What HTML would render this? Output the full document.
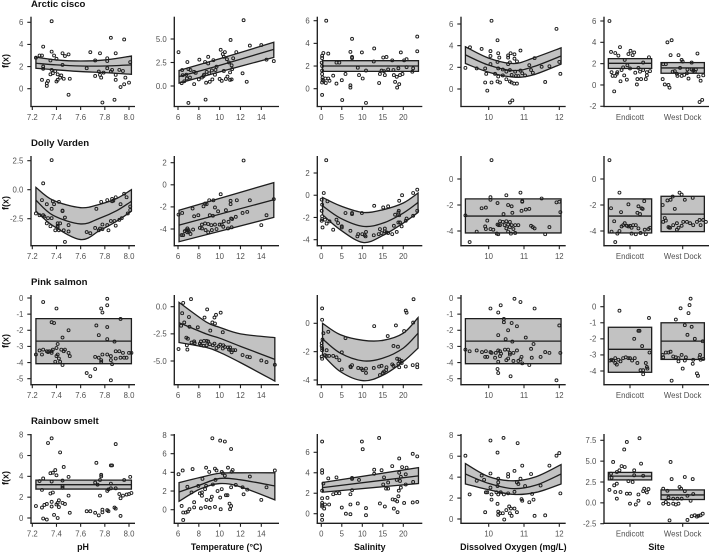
<!DOCTYPE html>
<html lang="en">
<head>
<meta charset="utf-8">
<title>GAM partial effects by species</title>
<style>
html,body{margin:0;padding:0;background:#fff;width:709px;height:552px;overflow:hidden}
svg{display:block;font-family:"Liberation Sans",sans-serif}
</style>
</head>
<body>
<svg id="chart" width="709" height="552" viewBox="0 0 709 552" xmlns="http://www.w3.org/2000/svg"></svg>
<script>
/* ---------- categories ---------- */
const speciesNames = ["Arctic cisco","Dolly Varden","Pink salmon","Rainbow smelt"];
const predictorNames = ["pH","Temperature (°C)","Salinity","Dissolved Oxygen (mg/L)","Site"];
const siteNames = ["Endicott","West Dock"];

/* ---------- x tick labels ---------- */
const phTicks = [7.2,7.4,7.6,7.8,8.0];
const tempTicks = [6,8,10,12,14];
const salTicks = [0,5,10,15,20];
const doTicks = [10,11,12];

/* ---------- y tick labels ---------- */
const arcticPhYTicks = [0,2,4,6];
const arcticTempYTicks = [0,2.5,5];
const arcticSalYTicks = [0,2,4,6];
const arcticDoYTicks = [0,2,4,6];
const arcticSiteYTicks = [-2,0,2,4,6];
const dollyPhYTicks = [-2.5,0,2.5];
const dollyTempYTicks = [-4,-2,0,2];
const dollySalYTicks = [-4,-2,0,2];
const dollyDoYTicks = [-4,-2,0];
const dollySiteYTicks = [-4,-2,0];
const pinkPhYTicks = [-5,-4,-3,-2,-1,0];
const pinkTempYTicks = [-5,-2.5,0];
const pinkSalYTicks = [-4,-2,0];
const pinkDoYTicks = [-5,-4,-3,-2,-1,0];
const pinkSiteYTicks = [-4,-3,-2,-1,0];
const smeltPhYTicks = [0,2,4,6,8];
const smeltTempYTicks = [0,2,4,6,8];
const smeltSalYTicks = [0,2,4,6];
const smeltDoYTicks = [0,2,4,6,8];
const smeltSiteYTicks = [-2.5,0,2.5,5,7.5];

/* ---------- smooth / effect bands: [x knots], fit, upper, lower ---------- */
const arcticPhKnots = [7.23,7.4,7.6,7.8,8.02];
const arcticPhFit = [2.3,2.15,2.05,2.05,2.15];
const arcticPhUpper = [2.85,2.6,2.5,2.6,2.95];
const arcticPhLower = [1.85,1.7,1.55,1.45,1.3];
const arcticTempKnots = [6.1,10,15.2];
const arcticTempFit = [1,2.2,3.9];
const arcticTempUpper = [1.65,2.9,4.65];
const arcticTempLower = [0.3,1.5,3.05];
const arcticSalKnots = [0.3,23.7];
const arcticSalFit = [2,2];
const arcticSalUpper = [2.47,2.47];
const arcticSalLower = [1.53,1.53];
const arcticDoKnots = [9.34,10,10.7,11.26,12.05];
const arcticDoFit = [3.15,2.2,1.7,2.05,3.05];
const arcticDoUpper = [3.9,2.85,2.35,2.85,3.8];
const arcticDoLower = [2.35,1.55,1.1,1.3,2.3];
const arcticSiteFit = [2.03,1.6];
const arcticSiteUpper = [2.47,2.1];
const arcticSiteLower = [1.55,1.1];

const dollyPhKnots = [7.23,7.37,7.6,7.76,7.9,8.02];
const dollyPhFit = [-0.9,-2.2,-2.95,-2.45,-1.8,-1];
const dollyPhUpper = [0.2,-0.9,-1.55,-1.25,-0.75,0];
const dollyPhLower = [-1.85,-3.1,-4.3,-3.5,-2.7,-1.85];
const dollyTempKnots = [6.1,15.2];
const dollyTempFit = [-3.65,-1.35];
const dollyTempUpper = [-2.3,0.2];
const dollyTempLower = [-5.15,-2.95];
const dollySalKnots = [0.3,4.6,10.2,15.1,20,23.6];
const dollySalFit = [-0.95,-2.05,-2.8,-2.5,-1.6,-0.65];
const dollySalUpper = [-0.2,-0.95,-1.55,-1.3,-0.7,0.2];
const dollySalLower = [-1.75,-3.1,-4.25,-3.6,-2.5,-1.55];
const dollyDoKnots = [9.34,12.05];
const dollyDoFit = [-2.85,-2.85];
const dollyDoUpper = [-1.53,-1.53];
const dollyDoLower = [-4.15,-4.15];
const dollySiteFit = [-2.85,-2.7];
const dollySiteUpper = [-1.53,-1.33];
const dollySiteLower = [-4.15,-4.05];

const pinkPhKnots = [7.23,8.02];
const pinkPhFit = [-2.67,-2.67];
const pinkPhUpper = [-1.28,-1.28];
const pinkPhLower = [-4.07,-4.07];
const pinkTempKnots = [6.1,8.7,10,12,15.3];
const pinkTempFit = [-1.47,-2.5,-2.9,-3.65,-4.85];
const pinkTempUpper = [0.4,-1.4,-1.9,-2.5,-2.85];
const pinkTempLower = [-3.3,-3.75,-4.2,-5.15,-6.85];
const pinkSalKnots = [0.3,4.6,10.2,15.1,20,23.6];
const pinkSalFit = [-1.1,-2.1,-2.65,-2.45,-1.75,-0.7];
const pinkSalUpper = [0,-0.8,-1.2,-1.2,-0.7,0.4];
const pinkSalLower = [-2.2,-3.4,-4.05,-3.65,-2.7,-1.75];
const pinkDoKnots = [9.34,12.05];
const pinkDoFit = [-2.67,-2.67];
const pinkDoUpper = [-1.28,-1.28];
const pinkDoLower = [-4.07,-4.07];
const pinkSiteFit = [-2.65,-2.14];
const pinkSiteUpper = [-1.28,-1];
const pinkSiteLower = [-4.08,-3.28];

const smeltPhKnots = [7.23,8.02];
const smeltPhFit = [3.2,3.2];
const smeltPhUpper = [3.64,3.64];
const smeltPhLower = [2.78,2.78];
const smeltTempKnots = [6.1,8.1,10,12,15.3];
const smeltTempFit = [1.9,2.65,3.35,3.2,2.55];
const smeltTempUpper = [2.9,3.45,3.9,3.95,3.95];
const smeltTempLower = [0.9,2.2,2.8,2.45,1.05];
const smeltSalKnots = [0.3,23.7];
const smeltSalFit = [2.55,3.7];
const smeltSalUpper = [3.05,4.5];
const smeltSalLower = [2.1,2.95];
const smeltDoKnots = [9.34,10,10.7,11.35,12.05];
const smeltDoFit = [4.3,3.4,2.9,3.25,4.3];
const smeltDoUpper = [5.3,4.05,3.65,4.05,5.2];
const smeltDoLower = [3.35,2.8,2.35,2.55,3.35];
const smeltSiteFit = [3.2,0.95];
const smeltSiteUpper = [3.65,1.55];
const smeltSiteLower = [2.75,0.4];

/* ---------- partial residuals: [x, y] ---------- */
const arcticPhPoints = [[7.36,6.1],[7.85,4.6],[7.96,4.45],[7.29,3.8],[7.36,3.35],[7.38,3],[7.45,3.2],[7.47,2.95],[7.5,3.1],[7.68,3.3],[7.76,3.2],[7.89,3.2],[7.26,3],[7.28,3],[7.23,2.8],[7.4,2.7],[7.35,2.55],[7.72,2.55],[7.82,2.75],[7.82,2.5],[8.01,2.4],[7.45,2.15],[7.29,2],[7.29,1.8],[7.65,1.85],[7.36,1.7],[7.39,1.6],[7.35,1.3],[7.37,1.4],[7.41,1.3],[7.44,1.2],[7.43,1],[7.28,0.8],[7.33,0.7],[7.32,0.5],[7.32,0.25],[7.4,0.65],[7.41,0.8],[7.46,0.9],[7.51,0.9],[7.5,-0.55],[7.78,-1.25],[7.88,-1],[7.72,1.15],[7.75,1.55],[7.76,1.25],[7.77,1],[7.82,1.85],[7.86,1.7],[7.85,1.55],[7.92,1.7],[7.95,1.6],[7.89,1.25],[7.89,0.8],[7.97,1],[8,0.55],[7.96,0.4],[7.93,0.15],[7.79,1.45]];
const arcticTempPoints = [[12.3,7],[6.05,3.6],[11.05,4.9],[12.9,4.3],[14,4.35],[14.5,2.8],[15.2,2.65],[12.6,0.45],[12.2,1.35],[10.1,3.85],[10.5,3.6],[11.6,3.6],[10.3,3.4],[10.4,3.1],[8.9,3.1],[9.4,2.75],[6.9,2.55],[8.05,2.8],[8.6,2.55],[8.9,2.4],[10.7,2.85],[11.3,2.95],[11.15,2.2],[7,-1.8],[8.65,-1.45],[6.35,0.3],[6.6,0.5],[6.85,0.8],[7.15,0.9],[7.55,0.2],[7.55,1.5],[8,0.7],[8.3,0.9],[8.45,1.05],[8.7,0.35],[9.05,0.45],[9.3,0.7],[9.55,1.2],[8.75,1.5],[9.25,1.65],[9.7,2.05],[10,0.75],[10.2,0.55],[10.4,1.6],[10.6,0.75],[10.75,1],[11,0.65],[11.15,0.7],[11,1.45],[11.2,1.8],[6.45,1.15],[6.8,1.2],[7.2,1.7],[7,1.8],[7.7,1.4],[6.4,1.7],[8.5,1.2],[9,1.35],[9.6,1.7],[10.9,2.5]];
const arcticSalPoints = [[1.2,6],[23.4,4.6],[23.4,3.3],[7.5,4.4],[12.9,3.55],[0.5,3.15],[1.7,3.1],[7.1,3.25],[9.9,3.2],[19.4,3.2],[0.2,2.9],[0.2,2.7],[7.5,2.8],[7.5,2.7],[15.1,2.75],[15.9,2.8],[17.3,2.5],[20.2,2.5],[20.8,2.6],[3.7,2.3],[4.4,2.3],[12.8,2.4],[8.9,1.85],[0.1,2.3],[0.2,2],[0.2,1.6],[10.9,1.6],[14.7,1.6],[15.3,1.55],[16.3,1.7],[17.6,1.65],[18.8,1.8],[20.8,1.9],[22.4,1.8],[22.2,1.5],[14.3,1.3],[15.5,1.2],[17.7,1.2],[19.2,1.2],[19.8,1.3],[5.9,1.3],[9.2,1.2],[10.1,0.9],[2.9,1.15],[1,0.9],[1.7,0.9],[1.1,0.5],[2,0.7],[3.7,0.45],[5,0.75],[7.1,0.3],[7.1,0.1],[14.1,0.5],[18,0.6],[18.4,1.05],[19,0.4],[18.5,0.1],[0.2,-0.55],[5.1,-1],[10.9,-1.25],[0.2,1.3],[0.3,1],[0.3,0.8],[0.2,0.55],[0.5,0.7]];
const arcticDoPoints = [[10.08,6.3],[11.92,5.55],[10.25,4.5],[9.47,3.85],[9.8,3.7],[10.05,3.5],[10.27,3.3],[10.9,3.55],[10.62,3.3],[10.73,3.2],[10.55,3.1],[10.05,3.05],[10.55,2.9],[10.3,2.9],[10.73,2.8],[11.3,2.85],[10.25,2.5],[10.8,2.55],[10.6,2.45],[10.55,2.3],[10.05,2.3],[12,2.5],[11.15,2.2],[11.5,2.05],[11.72,2.1],[9.34,1.95],[9.66,1.9],[9.9,1.9],[10.27,1.9],[10.4,1.8],[10.5,1.6],[10.6,1.75],[10.75,1.6],[10.9,1.7],[11.2,1.75],[11.25,1.5],[9.93,1.4],[10.18,1.4],[10.27,1.15],[10.4,1.25],[10.65,1.3],[10.95,1.45],[11.03,1.25],[10.77,1.2],[10.84,1.2],[12.03,1.4],[9.9,0.6],[10.08,0.6],[10.25,0.7],[10.32,0.6],[10.5,0.9],[10.6,0.7],[10.65,0.6],[10.72,0.5],[10.8,0.5],[11.6,0.65],[9.96,-0.15],[10.6,-1.25],[10.67,-1.05]];
const arcticSitePoints = [[0.61,6],[0.64,3.1],[0.81,3.55],[0.72,3],[0.78,2.75],[1.01,3.2],[1.08,3.05],[1.05,2.8],[0.97,2.9],[1.36,2.6],[0.9,2.35],[1.25,2.1],[0.95,1.85],[0.87,1.65],[0.84,1.4],[1,1.55],[1.16,1.6],[1.25,1.4],[0.65,1.2],[0.76,1.2],[1.1,1.15],[1.19,1.25],[1.32,1.2],[1.38,1.3],[0.67,0.85],[0.72,0.85],[0.75,1.05],[0.89,0.9],[0.94,0.5],[0.82,0.35],[1.14,0.55],[1.21,0.55],[1.3,0.55],[1.32,0.9],[1.13,0.05],[0.7,-0.6],[1.71,4],[1.79,4.2],[2.28,2.95],[1.77,2.8],[1.92,2.8],[1.98,2.35],[2,2.2],[2.17,2.1],[1.63,1.95],[1.68,1.95],[1.95,1.6],[2.09,1.45],[2.17,1.45],[2.25,1.45],[1.81,1.25],[1.85,1.3],[1.89,1.05],[1.9,0.85],[2.03,0.95],[2.08,1.1],[1.98,0.85],[2.11,0.6],[2.23,1.25],[2.3,0.8],[2.39,0.9],[2.34,0.4],[1.62,0.55],[1.66,0.05],[1.73,0],[1.75,-0.25],[2.32,-1.6],[2.37,-1.4],[2.2,1.35]];

const dollyPhPoints = [[7.36,2.55],[7.29,0.55],[7.96,-0.35],[7.98,-0.65],[7.89,-0.65],[7.86,-0.8],[7.82,-0.9],[7.77,-1.05],[7.37,-1],[7.38,-1.25],[7.42,-1.05],[7.28,-0.9],[7.32,-1.25],[7.93,-1.25],[7.73,-1.65],[7.36,-1.65],[7.45,-1.85],[7.45,-1.8],[8.01,-1.45],[7.23,-2.05],[7.26,-2.2],[7.29,-2.2],[7.3,-2.3],[7.33,-2.45],[7.36,-2.45],[7.47,-2.4],[7.32,-2.9],[7.35,-3.15],[7.41,-2.9],[7.43,-2.9],[7.41,-3.1],[7.39,-3.5],[7.42,-3.5],[7.46,-3.5],[7.5,-3.6],[7.5,-3.05],[7.47,-4.5],[7.65,-3.65],[7.68,-3.75],[7.72,-3.3],[7.75,-3.5],[7.76,-3.35],[7.78,-3],[7.82,-3.05],[7.83,-3.5],[7.85,-2.7],[7.88,-2.7],[7.89,-3.1],[7.92,-2.6],[7.94,-2.45],[7.99,-2.05],[8.01,-1.75],[7.86,-1],[7.87,-0.95],[7.41,-3.2],[7.78,-3.4]];
const dollyTempPoints = [[12.3,2.2],[10.1,-0.85],[12.9,-1.4],[11.05,-1.45],[11.65,-1.4],[11.05,-1.75],[9,-1.4],[9.4,-1.4],[8.6,-1.7],[8.45,-1.95],[9.55,-2.05],[9.85,-2.4],[10.6,-2.3],[12.2,-2.55],[12.65,-2.45],[14.5,-2.75],[7.4,-2.15],[6.4,-2.55],[6.05,-2.7],[9.05,-2.75],[9.35,-2.8],[7.95,-2.75],[7.55,-2.85],[11.55,-2.9],[11.2,-3.1],[14,-3.65],[6.35,-4.55],[6.5,-4.55],[6.65,-4.2],[6.9,-3.95],[7,-4.1],[6.9,-4.3],[7.2,-4.45],[7.45,-4.05],[8.1,-3.9],[8.3,-3.6],[8.6,-3.5],[8.9,-3.55],[9.2,-3.65],[8.3,-3.95],[8.65,-4.1],[8.9,-4.3],[9.25,-4.1],[9.55,-3.6],[9.7,-4],[10,-3.6],[10.2,-3.6],[10.4,-3.3],[10.85,-3.35],[10.8,-3.95],[11.15,-3.85],[10.35,-3.8],[15.2,-1.3],[6.8,-4.1],[7.05,-4.25],[11.1,-3.05],[8.75,-1.75]];
const dollySalPoints = [[1.2,3.15],[0.6,0.2],[23.4,0.5],[19.7,0],[22.4,0.2],[12.9,-0.95],[15.1,-1.1],[16.3,-1],[19,-0.5],[5.9,-1.6],[7.5,-1.6],[9.9,-1.6],[1.5,-0.55],[0.1,-0.4],[0.2,-0.85],[0.1,-1.4],[0.2,-1.9],[0.2,-2.15],[0.1,-2.3],[0.3,-2.9],[0.9,-2.2],[1.3,-2.55],[2,-2.35],[2.9,-3.1],[3.7,-2.2],[4.1,-2.5],[5,-2.9],[7.1,-3.2],[8.8,-3.7],[9,-3.5],[10,-3.5],[10.9,-3.3],[10.6,-3.6],[10.8,-3.7],[12.8,-3.6],[14.3,-3.05],[14,-3.5],[14.7,-3.4],[15.5,-3],[15.5,-3.25],[15.9,-3.35],[16.3,-3.4],[17.3,-3.5],[17.7,-2.75],[18.4,-3.3],[18,-1.75],[18.8,-1.55],[18.9,-1.4],[19,-1.8],[18.8,-2.45],[19.2,-2.45],[19.6,-2.8],[20.6,-2.3],[20.8,-2.1],[22.4,-1.85],[23.4,-1.4],[7.5,-1.7],[5,-2.8]];
const dollyDoPoints = [[10.08,1.45],[10.9,-1.05],[10.5,-1.25],[10.05,-1.4],[10.05,-1.6],[10.95,-1.7],[11.5,-1.5],[11.92,-1.8],[12,-1.75],[10.25,-1.85],[10.55,-2],[10.65,-2.1],[9.8,-2.25],[9.92,-2.2],[10.93,-2.45],[11.05,-2.35],[11.15,-2.3],[12.03,-2.55],[10.67,-2.6],[10.42,-2.7],[9.34,-2.8],[9.96,-3.2],[10.32,-3.25],[10.4,-3.3],[10.5,-3.25],[10.6,-3.3],[10.25,-3.5],[10.32,-3.55],[10.45,-3.55],[10.55,-3.5],[10.65,-3.55],[10.75,-3.55],[10.84,-3.55],[9.9,-3.65],[9.92,-3.85],[10.05,-3.85],[10.13,-3.9],[10.23,-4.2],[10.27,-4.25],[10.5,-3.8],[10.55,-4.05],[10.63,-4.2],[10.75,-4.15],[10.7,-3.85],[11.2,-3.6],[11.25,-3.7],[11.3,-3.8],[11.72,-3.7],[11.6,-4.25],[9.66,-4.05],[9.46,-4.85],[10.95,-1.75],[10.28,-3.55],[10.6,-3.7]];
const dollySitePoints = [[0.61,1.45],[0.8,-1.05],[0.64,-2.25],[0.83,-2.55],[0.7,-3.25],[0.97,-1.95],[1.16,-2.1],[1.27,-1.7],[1.24,-2.3],[1.14,-2.6],[1.19,-2.7],[0.65,-4.05],[0.72,-4.85],[0.76,-4.2],[0.8,-4],[0.84,-3.65],[0.87,-3.55],[0.9,-3.4],[0.94,-3.6],[0.97,-3.65],[1,-3.6],[1.03,-3.75],[1.06,-3.55],[1.11,-3.55],[1.16,-3.8],[1.03,-4.2],[1.11,-4.25],[1.2,-4.15],[1.3,-4.25],[1.28,-3.9],[1.35,-3.85],[1.38,-3.75],[1.94,-1.05],[1.98,-1.2],[2.19,-1.45],[1.81,-1.35],[1.77,-1.6],[1.71,-1.65],[1.62,-2],[2.04,-1.6],[1.85,-2.3],[1.66,-3],[1.68,-3.2],[1.63,-3.3],[1.73,-3.7],[1.82,-3.55],[1.89,-3.4],[1.92,-3.75],[1.98,-3.6],[2.01,-3.3],[2.08,-3.3],[2.14,-3.4],[2.2,-3.55],[2.27,-3.3],[2.32,-3.15],[2.39,-3.15],[2.34,-3.55],[1.76,-3.75],[1.89,-3.9],[2.44,-3.3],[1.22,-2.25],[1.75,-3.75]];

const pinkPhPoints = [[7.82,-0.05],[7.82,-0.45],[7.29,-0.25],[7.4,-0.65],[7.77,-0.65],[7.78,-0.9],[7.36,-1.5],[7.38,-1.55],[7.93,-1.3],[7.73,-1.7],[7.82,-1.8],[7.5,-2],[7.75,-2.3],[7.45,-2.45],[7.82,-2.55],[7.88,-2.7],[7.41,-2.85],[7.23,-3.5],[7.26,-3.25],[7.28,-3.5],[7.29,-3.2],[7.32,-3.3],[7.34,-3.3],[7.36,-3.4],[7.37,-3.2],[7.4,-3.1],[7.41,-3.5],[7.44,-3.2],[7.46,-3.3],[7.47,-3.2],[7.5,-3.4],[7.51,-3.6],[7.4,-3.6],[7.42,-3.75],[7.39,-3.95],[7.43,-3.95],[7.45,-4.15],[7.72,-3.65],[7.75,-3.7],[7.77,-3.85],[7.78,-3.5],[7.82,-3.5],[7.85,-3.6],[7.85,-3.85],[7.89,-3.3],[7.89,-3.75],[7.92,-3.3],[7.95,-3.4],[7.93,-3.7],[7.96,-3.7],[7.98,-3.7],[8,-3.4],[8.02,-3.4],[7.86,-4.1],[7.72,-4.4],[7.65,-4.65],[7.68,-4.85],[7.85,-5.1],[7.77,-3.95],[7.36,-3.3],[7.33,-3.35]];
const pinkTempPoints = [[7.25,0.7],[6.5,0.35],[8.8,-0.25],[10.1,-0.55],[6.4,-0.6],[9.65,-0.75],[9.5,-1],[7.05,-0.95],[8.55,-1],[9.3,-1.45],[9.55,-1.55],[6.6,-1.45],[6.3,-1.75],[7.1,-1.85],[7.9,-1.9],[9.1,-2.2],[10.3,-2.35],[6.8,-2.85],[6.95,-2.95],[6.05,-3.9],[6.85,-3.55],[6.9,-3.95],[7.3,-3.3],[7.55,-3.2],[7.6,-3.35],[8.2,-3.2],[8.2,-3.55],[8.5,-3.15],[8.75,-3.15],[8.9,-3.2],[8.45,-3.6],[8.75,-3.55],[9.05,-3.45],[9.35,-3.55],[9.7,-3.8],[10.05,-3.5],[10.35,-3.55],[10.5,-3.7],[10.8,-3.75],[11.05,-4],[11.15,-4.2],[11.3,-4],[11.5,-4],[12.2,-4.45],[12.65,-4.6],[12.9,-4.65],[14,-4.95],[14.5,-5.1],[15.3,-5.35],[10.3,-3.85],[10.9,-3.95],[11,-3.75],[9.9,-3.65],[8.1,-3.4],[9.5,-3.4]];
const pinkSalPoints = [[22.5,1.7],[0.2,1.05],[0.2,0.25],[20.6,0.9],[20.8,0.75],[12.9,-0.2],[18.2,-0.15],[22.4,0.05],[20.2,-0.55],[5.9,-1.05],[16.2,-0.9],[1.7,-0.6],[0.5,-0.7],[0.3,-1.15],[17.6,-1.6],[18.7,-1.65],[5,-2.05],[0.1,-1.4],[0.1,-1.6],[0.2,-1.75],[0.2,-1.9],[0.1,-2.35],[0.2,-2.5],[0.9,-2.25],[1.3,-1.9],[1.3,-2.3],[1.9,-2.3],[2.9,-2.3],[3.7,-2.4],[4.4,-2.6],[5,-3.25],[7.1,-3.05],[7.5,-2.95],[7.2,-3.1],[9,-3.15],[9.8,-3.2],[10.1,-3.3],[10.9,-3.2],[10.9,-3.5],[12.8,-3.15],[14.1,-3.05],[14.7,-3],[14.3,-3.65],[15.3,-3.4],[15.9,-3.1],[15.8,-3.3],[17.3,-2.9],[17.6,-3],[18.5,-2.5],[19,-2.55],[18.8,-2.85],[19.6,-2.65],[19.6,-2.8],[19,-3.1],[20.6,-3.05],[22.3,-2.95],[23.4,-2.9],[23.4,-3.1],[15,-3.5],[19.2,-2.7]];
const pinkDoPoints = [[10.73,-0.05],[10.9,-0.25],[10.34,-0.45],[10.05,-0.65],[10.27,-0.9],[11.3,-0.65],[10.43,-1.3],[10.43,-1.5],[10.65,-1.55],[10.8,-1.75],[12,-1.7],[10.55,-2],[10.27,-2.3],[11.05,-2.45],[10.48,-2.55],[10.67,-2.7],[11.27,-2.85],[9.34,-3.2],[9.46,-3.3],[9.66,-3.25],[9.81,-3.35],[9.92,-3.3],[10.05,-3.35],[10.08,-3.4],[9.9,-3.65],[9.96,-3.65],[10.2,-3.4],[10.27,-3.25],[10.32,-3.3],[10.32,-3.6],[10.18,-3.7],[10.46,-3.2],[10.55,-3.2],[10.6,-3.4],[10.7,-3.4],[10.8,-3.25],[11.2,-3.15],[12.03,-3.4],[11.6,-3.35],[11.72,-3.4],[11.47,-3.65],[11.22,-3.7],[10.93,-3.65],[10.27,-3.95],[10.5,-3.85],[10.55,-3.75],[10.7,-3.9],[10.84,-3.9],[10.9,-3.8],[10.95,-4.05],[11.15,-4.15],[10.25,-4.4],[10.27,-4.65],[10.62,-4.85],[11.92,-5.1],[10.6,-3.5],[10.35,-3.45]];
const pinkSitePoints = [[0.8,-0.25],[1.36,-0.7],[1.18,-1.5],[1.16,-1.5],[1.08,-2],[1.23,-2.45],[1.37,-2.85],[0.62,-3.35],[0.65,-3.3],[0.68,-3.35],[0.72,-3.2],[0.75,-3.6],[0.78,-3.3],[0.82,-3.4],[0.87,-3.2],[0.92,-3.15],[0.97,-3.2],[1,-3.2],[1.04,-3.35],[1.09,-3.2],[1.14,-3.5],[1.2,-3.95],[1.25,-3.95],[1.25,-4.2],[1.3,-3.5],[1.32,-3.75],[1.33,-3.85],[0.72,-3.5],[2.15,0.5],[2.13,0.1],[1.96,-0.1],[2.11,-0.4],[1.87,-0.8],[2.04,-1.15],[2.17,-1.25],[2.09,-1.75],[2.23,-2],[2.38,-2.15],[1.79,-4.6],[2,-3.85],[2.27,-4.15],[2.29,-4.3],[2.19,-3.55],[1.62,-3],[1.63,-3.15],[1.68,-2.85],[1.73,-2.85],[1.77,-2.8],[1.82,-3.1],[1.87,-3.15],[1.92,-3.4],[1.98,-3],[2.04,-3.35],[2.06,-3.15],[2.2,-3.3],[2.33,-3],[2.32,-3.15],[2.34,-3.3],[2.39,-3.25],[1.92,-3.2]];

const smeltPhPoints = [[7.36,7.65],[7.33,7.2],[7.89,7.1],[7.43,6.3],[7.46,4.9],[7.73,5.3],[7.85,5.05],[7.86,5.05],[7.35,4.3],[7.37,4.35],[7.39,4.6],[7.4,4.1],[7.5,3.95],[7.29,3.8],[7.77,4.15],[7.77,4],[8.01,3.95],[7.96,3.65],[7.26,3.55],[7.36,3.5],[7.45,3.6],[7.72,3.4],[7.76,3.65],[7.74,3.2],[7.85,3.3],[7.45,3.05],[7.45,2.9],[7.28,2.7],[7.35,2.35],[7.37,2.45],[7.82,2.6],[7.83,2.75],[7.85,2.85],[7.89,2.85],[7.5,2.15],[7.76,2.15],[7.92,2.3],[7.95,2.15],[7.98,2.25],[8.02,2.4],[7.93,1.9],[8,2.3],[7.23,1.15],[7.28,1],[7.3,1.25],[7.32,1.35],[7.36,1.55],[7.36,1.1],[7.4,1.3],[7.41,1.45],[7.42,1.7],[7.42,1.05],[7.45,1.45],[7.47,1.35],[7.51,0.5],[7.38,0.3],[7.41,0],[7.29,-0.05],[7.32,-0.15],[7.65,0.65],[7.68,0.65],[7.72,0.5],[7.75,0.25],[7.78,0.8],[7.78,0.55],[7.82,0.75],[7.83,0.65],[7.88,1],[7.89,0.9],[7.93,0.2]];
const smeltTempPoints = [[9.3,7.65],[10.05,7.4],[10.5,7.3],[11.1,6.5],[8.7,4.5],[6.45,4.2],[7.4,4.35],[6.05,3.8],[9,4.05],[9.55,4.4],[9.7,4.2],[10.3,3.9],[10.2,4.05],[10.8,4.5],[11.25,4.25],[11.15,4.05],[10.5,3.65],[8.35,3.3],[12.9,3.55],[15.3,4.2],[6.9,2.45],[7.95,2.55],[8.7,2.55],[9.6,3.2],[9.35,2.7],[8.6,2.2],[8.3,1.85],[8.1,1.75],[7.3,1.85],[8.3,1.5],[9.8,2],[10.2,2.2],[11.1,2.4],[11.55,2.65],[12.2,2.4],[12.65,2.15],[12.3,1.65],[14.5,2.4],[14,1.05],[9.25,1.4],[8.75,1.05],[9.15,1.05],[10.05,1.3],[10.6,1.55],[10.75,1.55],[10.95,0.65],[11.1,0.4],[11,0.05],[8.2,0.15],[8.65,0.3],[9.05,0.2],[9.55,0.3],[10.1,0.05],[6.35,0.4],[6.5,-0.3],[6.75,-0.3],[6.95,-0.2],[7.1,0.05],[7.55,0.8],[7.55,0.25],[6.5,-1.1]];
const smeltSalPoints = [[0.2,7.05],[9.9,7.05],[14.1,7.4],[10.1,6.3],[22.3,5.85],[23.4,5.6],[19,5.4],[0.2,4.25],[0.2,4],[1.7,3.45],[3.7,3.55],[7.5,3.5],[7.5,3.4],[9.2,3.3],[12.9,4.3],[12.9,3.9],[14.7,4.25],[17.3,4.65],[19.7,4.55],[20.8,4.5],[19,4],[20.6,3.85],[19.4,3.6],[15.3,3.55],[18.4,3.3],[19.2,3.2],[22.4,3.1],[16.3,3.05],[15.1,2.85],[20.6,2.85],[19.4,2.55],[18.9,2.25],[15.8,2.45],[16.3,2.45],[7.5,2.3],[0.5,2.95],[0.2,2.25],[1.5,1.55],[0.2,1.5],[2.9,1.9],[3.6,2],[4.4,2],[7.1,1.9],[18.8,1.7],[17.4,1.4],[18,1.35],[18.5,1.2],[20.2,1.05],[22.3,1.1],[23.4,1.15],[14.3,1],[8.9,1],[7.1,0.9],[1.9,0.9],[0.2,1.05],[0.2,0.85],[0.9,0.9],[0.2,0.7],[0.7,0.5],[5,0.6],[10.9,0.55],[15.5,0.7],[17.7,0.5],[18.6,0.15],[6,0],[7.1,-0.05],[10.9,-0.15],[0.2,-0.15],[0.2,-0.6]];
const smeltDoPoints = [[10.05,7.5],[10.42,7.75],[10.82,7.25],[10.25,6.35],[9.34,6.05],[11.92,6.05],[12,6.3],[11.72,5.1],[10.95,5.1],[10.73,4.6],[10.05,4.35],[11.2,4.3],[9.8,4.15],[10.55,4.3],[10.55,4.05],[10.27,3.85],[9.87,3.75],[9.66,3.65],[10.9,3.85],[10.8,3.5],[10.84,3.35],[10.27,3.5],[11.03,3.15],[11.47,3.2],[10.05,3],[10.25,3.15],[9.46,2.35],[9.92,2.55],[9.96,2.55],[10.08,2.35],[10.22,2.55],[10.27,2.35],[10.34,2.55],[10.43,2.35],[10.55,2.45],[10.73,2.6],[11.23,2.4],[12.03,2.45],[10.08,1.85],[10.25,1.45],[10.93,1.9],[10.95,1.75],[11.15,1.6],[11.27,1.85],[10.58,1.2],[10.63,1],[10.5,0.85],[10.73,1],[9.9,0.65],[10.27,0.7],[10.32,0.55],[10.4,0.55],[10.27,0.4],[10.6,0.55],[10.8,0.65],[10.65,0.3],[11.3,0.3],[11.6,0.35],[10.44,-0.05]];
const smeltSitePoints = [[1.18,7.75],[0.94,7.3],[0.89,6.4],[0.68,4.9],[1.21,4.7],[0.84,4.4],[0.9,4.3],[1.08,3.9],[0.8,3.9],[0.75,3.7],[0.64,3.5],[1.08,3.3],[1.25,3.25],[0.65,3],[1.05,2.5],[0.97,2.6],[0.75,2.3],[0.7,2.1],[1.27,1.7],[0.61,1.55],[0.72,1.3],[0.82,1.3],[0.94,1.1],[1,1.1],[1.16,1],[1.25,1.4],[1.32,1.25],[1.35,1.65],[0.75,0.5],[1.16,0.25],[1,-0.1],[1.11,-0.2],[1.36,-0.05],[1.77,4.9],[1.79,2.85],[2.04,3.1],[2.19,2.85],[1.94,1.9],[1.97,1.7],[1.63,1.7],[1.71,1.45],[2.04,1.4],[2.2,1.05],[2.09,0.85],[1.9,0.5],[1.82,0.5],[1.73,0.65],[1.98,0.5],[2.15,0.25],[1.63,-0.1],[1.68,0.1],[1.73,-0.15],[1.82,-0.1],[1.87,-0.2],[1.92,-0.1],[1.75,-2.1],[2.09,-2.05],[2.17,-1.6],[2.23,-1.5],[2.3,-1.55],[2.34,-1.5],[2.38,-1.3],[2.27,-1.65]];

/* ---------- layout (not data) ---------- */
const INK = "#1e1e1e", TICK_TXT = "#505050", BAND = "#c2c2c2";
const columns = [
  {key:"ph",   axisX:31,    endX:135,   d:[7.2,8.0],  r:[32.3,129],   ticks:phTicks,   fmt:v=>v.toFixed(1)},
  {key:"temp", axisX:174.3, endX:279,   d:[6,14],     r:[178,261.3],  ticks:tempTicks, fmt:v=>String(v)},
  {key:"sal",  axisX:317.3, endX:422.3, d:[0,20],     r:[321.3,403.3],ticks:salTicks,  fmt:v=>String(v)},
  {key:"do",   axisX:461,   endX:565.7, d:[10,12],    r:[488.7,559.3],ticks:doTicks,   fmt:v=>String(v)},
  {key:"site", axisX:604,   endX:709,   d:[1,2],      r:[630,682.7],  ticks:[1,2],     fmt:v=>siteNames[v-1]}
];
const rows = [
  {top:16.7, bottom:106.5, titleY:7,   fxY:61},
  {top:156,  bottom:245.7, titleY:146, fxY:203},
  {top:295,  bottom:384.7, titleY:285, fxY:341},
  {top:434,  bottom:523.3, titleY:424, fxY:478}
];
const yAnchors = [
  [[0,88.7,6,22.3],[0,86,5,39],[0,88.7,6,20.7],[0,89,6,24],[-2,106.3,6,21]],
  [[-2.5,218.7,2.5,160.7],[-4,229,2,162.7],[-4,239.7,2,173],[-4,231,0,179],[-4,231,0,179]],
  [[-5,378.7,0,298],[-5,361,0,306.7],[-4,380,0,323.3],[-5,378.7,0,298],[-4,371,0,306.7]],
  [[0,518,8,434.7],[0,509.7,8,435],[0,513.7,6,452.3],[0,519,8,435.3],[-2.5,523.7,7.5,440.3]]
];
const panelData = [
  [{pts:arcticPhPoints,k:arcticPhKnots,f:arcticPhFit,u:arcticPhUpper,l:arcticPhLower,yt:arcticPhYTicks,yf:v=>String(v)},
   {pts:arcticTempPoints,k:arcticTempKnots,f:arcticTempFit,u:arcticTempUpper,l:arcticTempLower,yt:arcticTempYTicks,yf:v=>v.toFixed(1)},
   {pts:arcticSalPoints,k:arcticSalKnots,f:arcticSalFit,u:arcticSalUpper,l:arcticSalLower,yt:arcticSalYTicks,yf:v=>String(v)},
   {pts:arcticDoPoints,k:arcticDoKnots,f:arcticDoFit,u:arcticDoUpper,l:arcticDoLower,yt:arcticDoYTicks,yf:v=>String(v)},
   {pts:arcticSitePoints,f:arcticSiteFit,u:arcticSiteUpper,l:arcticSiteLower,yt:arcticSiteYTicks,yf:v=>String(v)}],
  [{pts:dollyPhPoints,k:dollyPhKnots,f:dollyPhFit,u:dollyPhUpper,l:dollyPhLower,yt:dollyPhYTicks,yf:v=>v.toFixed(1)},
   {pts:dollyTempPoints,k:dollyTempKnots,f:dollyTempFit,u:dollyTempUpper,l:dollyTempLower,yt:dollyTempYTicks,yf:v=>String(v)},
   {pts:dollySalPoints,k:dollySalKnots,f:dollySalFit,u:dollySalUpper,l:dollySalLower,yt:dollySalYTicks,yf:v=>String(v)},
   {pts:dollyDoPoints,k:dollyDoKnots,f:dollyDoFit,u:dollyDoUpper,l:dollyDoLower,yt:dollyDoYTicks,yf:v=>String(v)},
   {pts:dollySitePoints,f:dollySiteFit,u:dollySiteUpper,l:dollySiteLower,yt:dollySiteYTicks,yf:v=>String(v)}],
  [{pts:pinkPhPoints,k:pinkPhKnots,f:pinkPhFit,u:pinkPhUpper,l:pinkPhLower,yt:pinkPhYTicks,yf:v=>String(v)},
   {pts:pinkTempPoints,k:pinkTempKnots,f:pinkTempFit,u:pinkTempUpper,l:pinkTempLower,yt:pinkTempYTicks,yf:v=>v.toFixed(1)},
   {pts:pinkSalPoints,k:pinkSalKnots,f:pinkSalFit,u:pinkSalUpper,l:pinkSalLower,yt:pinkSalYTicks,yf:v=>String(v)},
   {pts:pinkDoPoints,k:pinkDoKnots,f:pinkDoFit,u:pinkDoUpper,l:pinkDoLower,yt:pinkDoYTicks,yf:v=>String(v)},
   {pts:pinkSitePoints,f:pinkSiteFit,u:pinkSiteUpper,l:pinkSiteLower,yt:pinkSiteYTicks,yf:v=>String(v)}],
  [{pts:smeltPhPoints,k:smeltPhKnots,f:smeltPhFit,u:smeltPhUpper,l:smeltPhLower,yt:smeltPhYTicks,yf:v=>String(v)},
   {pts:smeltTempPoints,k:smeltTempKnots,f:smeltTempFit,u:smeltTempUpper,l:smeltTempLower,yt:smeltTempYTicks,yf:v=>String(v)},
   {pts:smeltSalPoints,k:smeltSalKnots,f:smeltSalFit,u:smeltSalUpper,l:smeltSalLower,yt:smeltSalYTicks,yf:v=>String(v)},
   {pts:smeltDoPoints,k:smeltDoKnots,f:smeltDoFit,u:smeltDoUpper,l:smeltDoLower,yt:smeltDoYTicks,yf:v=>String(v)},
   {pts:smeltSitePoints,f:smeltSiteFit,u:smeltSiteUpper,l:smeltSiteLower,yt:smeltSiteYTicks,yf:v=>v.toFixed(1)}]
];

/* ---------- helpers ---------- */
const NS = "http://www.w3.org/2000/svg";
const root = document.getElementById("chart");
function make(tag, parent, props){
  const node = document.createElementNS(NS, tag);
  for (const p in props) node.setAttribute(p, props[p]);
  parent.appendChild(node);
  return node;
}
function linear(d0, d1, r0, r1){
  return v => r0 + (v - d0) * (r1 - r0) / (d1 - d0);
}
function smoothSegs(xy){
  if (xy.length === 2) return " L" + xy[1][0] + " " + xy[1][1];
  let s = "";
  for (let i = 0; i < xy.length - 1; i++){
    const p0 = xy[Math.max(i-1,0)], p1 = xy[i], p2 = xy[i+1], p3 = xy[Math.min(i+2,xy.length-1)];
    const c1x = p1[0] + (p2[0]-p0[0])/6, c1y = p1[1] + (p2[1]-p0[1])/6;
    const c2x = p2[0] - (p3[0]-p1[0])/6, c2y = p2[1] - (p3[1]-p1[1])/6;
    s += " C" + c1x + " " + c1y + " " + c2x + " " + c2y + " " + p2[0] + " " + p2[1];
  }
  return s;
}
function linePath(xy){ return "M" + xy[0][0] + " " + xy[0][1] + smoothSegs(xy); }
function bandPath(up, lo){
  const rev = lo.slice().reverse();
  return linePath(up) + " L" + rev[0][0] + " " + rev[0][1] + smoothSegs(rev) + " Z";
}
const BOX_HALF = 0.411;
const BAND_W = "1.3", AXIS_W = "1.35", TICK_W = "1.1";

/* ---------- draw ---------- */
speciesNames.forEach((species, ri) => {
  const row = rows[ri];
  const title = make("text", root, {x:31, y:row.titleY, "font-size":"9.6", "font-weight":"bold", fill:"#111"});
  
  
  title.textContent = species;

  const fx = make("text", root, {x:0, y:0, "font-size":"9", "font-weight":"bold", fill:"#111", "text-anchor":"middle", transform:"translate(8.5 " + row.fxY + ") rotate(-90)"});
  
  
  fx.textContent = "f(x)";

  columns.forEach((col, ci) => {
    const data = panelData[ri][ci];
    const a = yAnchors[ri][ci];
    const sx = linear(col.d[0], col.d[1], col.r[0], col.r[1]);
    const sy = linear(a[0], a[2], a[1], a[3]);
    const g = make("g", root, {});
    
    

    /* bands */
    if (data.k){
      const up = data.k.map((x,i)=>[sx(x), sy(data.u[i])]);
      const lo = data.k.map((x,i)=>[sx(x), sy(data.l[i])]);
      const fit = data.k.map((x,i)=>[sx(x), sy(data.f[i])]);
      const band = make("path", g, {d:bandPath(up,lo), fill:BAND, stroke:INK, "stroke-width":BAND_W});
      
      
      const line = make("path", g, {d:linePath(fit), fill:"none", stroke:INK, "stroke-width":BAND_W});
      
      
    } else {
      siteNames.forEach((name, si) => {
        const c = si + 1;
        const x0 = sx(c - BOX_HALF), x1 = sx(c + BOX_HALF);
        const box = make("rect", g, {x:x0, y:sy(data.u[si]), width:x1-x0, height:sy(data.l[si])-sy(data.u[si]), fill:BAND, stroke:INK, "stroke-width":BAND_W});
        
        
        const mid = make("line", g, {x1:x0, x2:x1, y1:sy(data.f[si]), y2:sy(data.f[si]), stroke:INK, "stroke-width":BAND_W});
        
        
      });
    }

    /* residual points */
    data.pts.forEach(p => {
      const c = make("circle", g, {cx:sx(p[0]), cy:sy(p[1]), r:"1.45", fill:"none", stroke:"#1e1e1e", "stroke-width":"0.95"});
      
      
    });

    /* axes */
    const yAxis = make("line", g, {x1:col.axisX, x2:col.axisX, y1:row.top, y2:row.bottom+0.6, stroke:INK, "stroke-width":AXIS_W});
    
    
    const xAxis = make("line", g, {x1:col.axisX-0.6, x2:col.endX, y1:row.bottom, y2:row.bottom, stroke:INK, "stroke-width":AXIS_W});
    
    

    data.yt.forEach(v => {
      const t = make("line", g, {x1:col.axisX-3.7, x2:col.axisX, y1:sy(v), y2:sy(v), stroke:INK, "stroke-width":TICK_W});
      
      
      const lab = make("text", g, {x:col.axisX-7.6, y:sy(v)+2.8, "font-size":"7.8", fill:TICK_TXT, "text-anchor":"end"});
      
      
      lab.textContent = data.yf(v);
    });
    col.ticks.forEach(v => {
      const t = make("line", g, {x1:sx(v), x2:sx(v), y1:row.bottom, y2:row.bottom+3.5, stroke:INK, "stroke-width":TICK_W});
      
      
      const lab = make("text", g, {x:sx(v), y:row.bottom+13.3, "font-size":"7.8", fill:TICK_TXT, "text-anchor":"middle"});
      
      
      lab.textContent = col.fmt(v);
    });

    if (ri === speciesNames.length - 1){
      const mid = (col.axisX + Math.min(col.endX, 709)) / 2;
      const xt = make("text", g, {x:mid, y:550, "font-size":"8.9", "font-weight":"bold", fill:"#111", "text-anchor":"middle"});
      
      
      xt.textContent = predictorNames[ci];
    }
  });
});
</script>
</body>
</html>
